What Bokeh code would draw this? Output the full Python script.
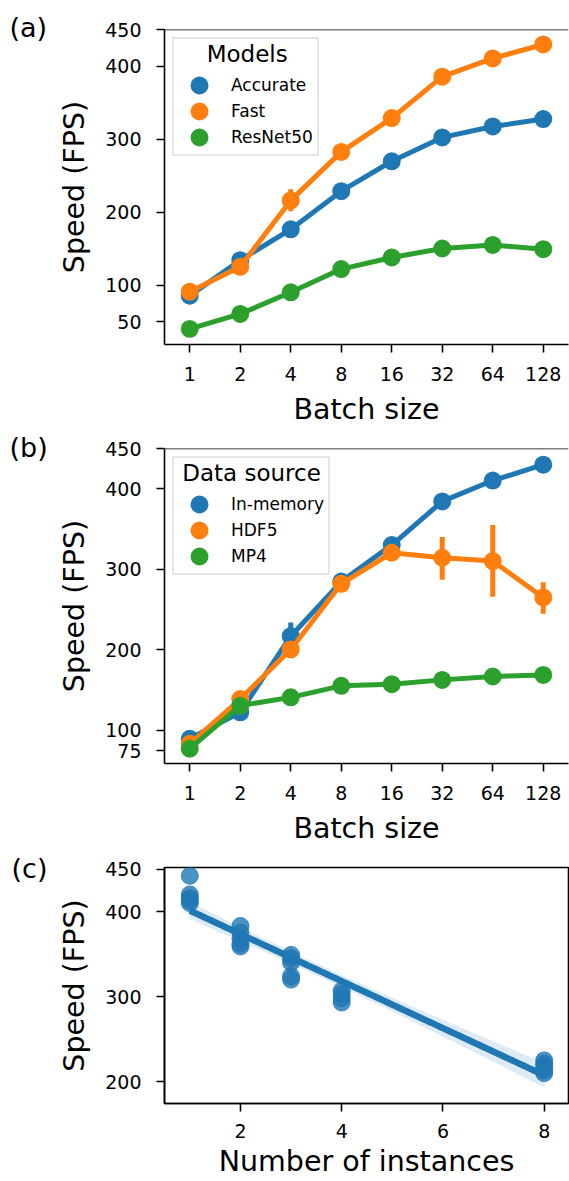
import numpy as np
from bokeh.plotting import figure
from bokeh.models import (FactorRange, Range1d, FixedTicker, Legend, LegendItem,
                          Span, Label, ColumnDataSource)
from bokeh.layouts import column
from bokeh.embed import file_html
from bokeh.resources import INLINE

# ---------------- data ----------------
batch_sizes = ["1", "2", "4", "8", "16", "32", "64", "128"]

# (a) Models
a_accurate = [85.4, 134, 176.3, 228.5, 269.5, 302.2, 317.2, 327.3]
a_accurate_lo = [77, 126, 173, 226, 267, 300, 315, 325]
a_accurate_hi = [94, 142, 180, 231, 272, 305, 320, 330]
a_fast = [90.8, 124.9, 215.9, 282.3, 328.6, 385.4, 410.4, 429.5]
a_fast_lo = [87, 121, 201, 279, 325, 382, 407, 426]
a_fast_hi = [94, 129, 231, 286, 332, 389, 414, 433]
a_resnet = [39.9, 60.4, 90.0, 121.8, 137.7, 150.0, 154.9, 149.0]
a_resnet_lo = [38, 58, 88, 120, 136, 148, 153, 147]
a_resnet_hi = [42, 63, 92, 124, 140, 152, 157, 151]

# (b) Data source
b_memory = [89.7, 122.6, 217.0, 284.8, 330.1, 384.3, 410.2, 429.9]
b_memory_lo = [84, 118, 205, 280, 325, 380, 406, 426]
b_memory_hi = [95, 128, 234, 290, 335, 389, 415, 434]
b_hdf5 = [83.5, 139.0, 200.6, 282.0, 320.6, 314.4, 310.3, 265.1]
b_hdf5_lo = [79, 134, 195, 277, 315, 287, 266, 245]
b_hdf5_hi = [88, 144, 206, 287, 326, 340, 355, 284]
b_mp4 = [77.4, 130.8, 141.1, 155.4, 157.5, 162.8, 167.0, 169.0]
b_mp4_lo = [75, 128, 138, 153, 155, 160, 164, 166]
b_mp4_hi = [80, 134, 144, 158, 160, 166, 170, 172]

# (c) Number of instances vs speed
c_instances = [1, 1, 1, 1, 1, 2, 2, 2, 2, 2, 3, 3, 3, 3, 3, 4, 4, 4, 4, 8, 8, 8, 8, 8]
c_speed = [442, 420, 416, 413, 410, 383, 375, 368, 362, 359, 349, 345, 340, 324, 320,
           307, 303, 298, 293, 225, 221, 217, 213, 210]

a_ticks = [50, 100, 200, 300, 400, 450]
b_ticks = [75, 100, 200, 300, 400, 450]
c_yticks = [200, 300, 400, 450]
c_xticks = [2, 4, 6, 8]

BLUE, ORANGE, GREEN = "#1f77b4", "#ff7f0e", "#2ca02c"
FONT = "DejaVu Sans"


def style_axes(p, xlabel, ylabel, xstand=14, xlab_stand=9, ylab_stand=11):
    p.xgrid.visible = False
    p.ygrid.visible = False
    for ax in (p.xaxis[0], p.yaxis[0]):
        ax.axis_line_width = 1.6
        ax.axis_line_color = "black"
        ax.major_tick_line_width = 1.6
        ax.major_tick_line_color = "black"
        ax.major_tick_out = 8
        ax.major_tick_in = 0
        ax.minor_tick_line_color = None
        ax.major_label_text_font = FONT
        ax.major_label_text_font_size = "19px"
        ax.major_label_text_color = "black"
        ax.axis_label_text_font = FONT
        ax.axis_label_text_font_size = "28.5px"
        ax.axis_label_text_font_style = "normal"
        ax.axis_label_text_color = "black"
    p.xaxis[0].axis_label = xlabel
    p.yaxis[0].axis_label = ylabel
    p.xaxis[0].major_label_standoff = xstand
    p.xaxis[0].axis_label_standoff = xlab_stand
    p.yaxis[0].major_label_standoff = 15
    p.yaxis[0].axis_label_standoff = ylab_stand


def panel_title(p, offset, standoff):
    t = p.title
    t.align = "left"
    t.offset = offset
    t.standoff = standoff
    t.vertical_align = "bottom"
    t.text_font = FONT
    t.text_font_size = "27px"
    t.text_font_style = "normal"
    t.text_color = "black"


def point_plot(ymin, ticks, series, legend_title, title_x, label, height, top, bottom):
    p = figure(width=569, height=height, x_range=FactorRange(*batch_sizes),
               y_range=Range1d(ymin, 450), output_backend="svg", title=label,
               toolbar_location=None, min_border_left=164, min_border_right=0,
               min_border_top=top, min_border_bottom=bottom, outline_line_color=None)
    p.yaxis.ticker = FixedTicker(ticks=ticks)
    style_axes(p, "Batch size", "Speed (FPS)")
    p.add_layout(Span(location=450, dimension="width", line_color="black", line_width=1.6))
    items = []
    for name, vals, lo, hi, col in series:
        src = ColumnDataSource(dict(x=batch_sizes, y=vals, lo=lo, hi=hi))
        p.line("x", "y", source=src, line_color=col, line_width=5)
        p.segment(x0="x", y0="lo", x1="x", y1="hi", source=src, line_color=col, line_width=5)
        r = p.scatter("x", "y", source=src, size=10.4, fill_color=col, line_color=col,
                      line_width=7.6)
        items.append(LegendItem(label=name, renderers=[r]))
    leg = Legend(items=items, location="top_left", title=" ",
                 title_text_font=FONT, title_text_font_size="23px",
                 title_text_font_style="normal", title_text_color="black",
                 title_standoff=3,
                 label_text_font=FONT, label_text_font_size="17px", label_text_color="black",
                 glyph_width=42, glyph_height=26, label_height=20, spacing=0,
                 padding=4, margin=8, label_standoff=11,
                 border_line_color="#cccccc", border_line_width=2,
                 background_fill_color=None)
    p.add_layout(leg)
    # centred legend title, drawn over the legend box
    p.add_layout(Label(x=title_x, y=291, x_units="screen", y_units="screen",
                       text=legend_title, text_align="center", text_baseline="alphabetic",
                       text_font=FONT, text_font_size="23px", text_color="black",
                       level="overlay"))
    return p


pa = point_plot(18.5, a_ticks, [
    ("Accurate", a_accurate, a_accurate_lo, a_accurate_hi, BLUE),
    ("Fast", a_fast, a_fast_lo, a_fast_hi, ORANGE),
    ("ResNet50", a_resnet, a_resnet_lo, a_resnet_hi, GREEN)], "Models", 82.7, "(a)",
    428, 29, 82)
panel_title(pa, -155, -27)

pb = point_plot(59, b_ticks, [
    ("In-memory", b_memory, b_memory_lo, b_memory_hi, BLUE),
    ("HDF5", b_hdf5, b_hdf5_lo, b_hdf5_hi, ORANGE),
    ("MP4", b_mp4, b_mp4_lo, b_mp4_hi, GREEN)], "Data source", 87, "(b)",
    419, 20, 82)
panel_title(pb, -155, -28)

# ---------------- (c) regression ----------------
x = np.array(c_instances, dtype=float)
y = np.array(c_speed, dtype=float)
n = len(x)
slope, intercept = np.polyfit(x, y, 1)
resid = y - (slope * x + intercept)
s = np.sqrt(np.sum(resid ** 2) / (n - 2))
mx = x.mean()
sxx = np.sum((x - mx) ** 2)
xs = np.linspace(x.min(), x.max(), 100)
yhat = slope * xs + intercept
se = s * np.sqrt(1.0 / n + (xs - mx) ** 2 / sxx)
tval = 2.074

pc = figure(width=569, height=333, x_range=Range1d(0.5, 8.48),
            y_range=Range1d(174.3, 451.8), output_backend="svg", title="(c)",
            toolbar_location=None, min_border_left=162, min_border_right=1,
            min_border_top=20, min_border_bottom=76,
            outline_line_color="black", outline_line_width=1.6)
pc.xaxis.ticker = FixedTicker(ticks=c_xticks)
pc.yaxis.ticker = FixedTicker(ticks=c_yticks)
style_axes(pc, "Number of instances", "Speed (FPS)", xstand=12, xlab_stand=4)
pc.scatter(c_instances, c_speed, size=17, fill_color=BLUE, line_color=BLUE,
           fill_alpha=0.8, line_alpha=0.8)
pc.varea(x=xs, y1=yhat - tval * se, y2=yhat + tval * se, fill_color=BLUE, fill_alpha=0.15)
pc.line(xs, yhat, line_color=BLUE, line_width=6.5)
panel_title(pc, -153, -33)

layout = column(pa, pb, pc)
open("out.html", "w").write(file_html(layout, INLINE))
